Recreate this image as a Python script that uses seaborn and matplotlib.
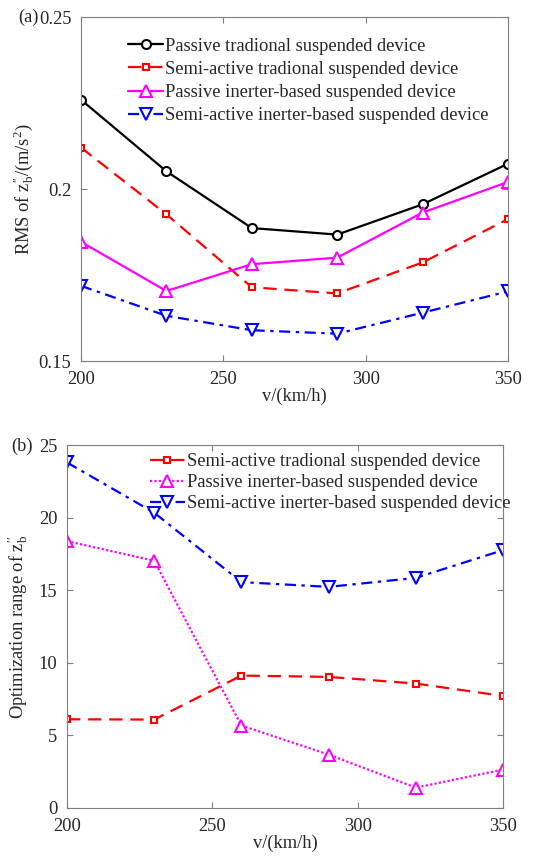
import pandas as pd
import seaborn as sns
import matplotlib.pyplot as plt

# ---- data ----
SPEEDS = [200, 230, 260, 290, 320, 350]

# (a) RMS of z_b''
RMS_PASSIVE_TRAD = [0.2260, 0.2052, 0.1887, 0.1868, 0.1956, 0.2074]
RMS_SEMI_TRAD = [0.2121, 0.1927, 0.1715, 0.1697, 0.1787, 0.1913]
RMS_PASSIVE_INERTER = [0.1847, 0.1704, 0.1782, 0.1801, 0.1932, 0.2021]
RMS_SEMI_INERTER = [0.1719, 0.1632, 0.1590, 0.1580, 0.1641, 0.1703]

# (b) optimization range (%)
OPT_SEMI_TRAD = [6.11, 6.09, 9.12, 9.03, 8.57, 7.72]
OPT_PASSIVE_INERTER = [18.38, 17.03, 5.68, 3.68, 1.40, 2.64]
OPT_SEMI_INERTER = [23.8, 20.34, 15.56, 15.23, 15.85, 17.76]

LABELS = [
    "Passive tradional suspended device",
    "Semi-active tradional suspended device",
    "Passive inerter-based suspended device",
    "Semi-active inerter-based suspended device",
]

sns.set_style("ticks")
plt.rcParams["font.family"] = ["Liberation Serif", "DejaVu Serif"]
plt.rcParams["mathtext.fontset"] = "custom"
plt.rcParams["mathtext.rm"] = "Liberation Serif"
plt.rcParams["mathtext.it"] = "Liberation Serif:italic"
plt.rcParams["axes.edgecolor"] = "#7f7f7f"
plt.rcParams["axes.linewidth"] = 0.8

FS = 13.3
ZB = r"$\mathrm{z}_\mathrm{b}^{\prime\prime}$"
DASH = (0, (6, 3.5))
DASHDOT = (0, (5, 2.5, 1.5, 2.5))


def style_axes(ax):
    ax.tick_params(direction="in", top=True, right=True, length=4, pad=7,
                   width=0.8, color="#7f7f7f", labelsize=FS, labelcolor="#262626")
    for s in ax.spines.values():
        s.set_visible(True)
        s.set_color("#7f7f7f")


def draw(ax, y, color, ls, marker, label, ms=7):
    sns.lineplot(x=SPEEDS, y=y, ax=ax, color=color, linestyle=ls, linewidth=1.6,
                 marker=marker, markersize=ms, markeredgewidth=1.5,
                 markeredgecolor=color, markerfacecolor="white",
                 label=label, legend=False)


fig = plt.figure(figsize=(5.33, 8.6), dpi=100)

# ---- (a) ----
ax1 = fig.add_axes([0.152, 0.580, 0.801, 0.400])
draw(ax1, RMS_PASSIVE_TRAD, "black", "-", "o", LABELS[0], ms=6.5)
draw(ax1, RMS_SEMI_TRAD, "red", DASH, "s", LABELS[1], ms=5)
draw(ax1, RMS_PASSIVE_INERTER, "magenta", "-", "^", LABELS[2], ms=8)
draw(ax1, RMS_SEMI_INERTER, "blue", DASHDOT, "v", LABELS[3], ms=8)
ax1.set_xlim(200, 350)
ax1.set_ylim(0.15, 0.25)
ax1.set_xticks([200, 250, 300, 350])
ax1.set_yticks([0.15, 0.2, 0.25])
ax1.set_yticklabels(["0.15", "0.2", "0.25"])
ax1.set_xlabel("v/(km/h)", fontsize=FS, color="#262626", labelpad=0)
ax1.set_ylabel("RMS of " + ZB + r"/(m/s$^2$)",
               fontsize=FS, color="#262626", labelpad=2)
style_axes(ax1)
ax1.legend(loc="upper left", bbox_to_anchor=(0.11, 0.94), frameon=False,
           fontsize=FS, handlelength=1.9, handletextpad=0.1, labelspacing=0.33,
           borderpad=0, borderaxespad=0)
fig.text(0.034, 0.980, "(a)", fontsize=FS, va="center", ha="left", color="#262626")

# ---- (b) ----
ax2 = fig.add_axes([0.1257, 0.0605, 0.818, 0.422])
draw(ax2, OPT_SEMI_TRAD, "red", DASH, "s", LABELS[1], ms=5)
draw(ax2, OPT_PASSIVE_INERTER, "magenta", (0, (1, 1)), "^", LABELS[2], ms=8)
draw(ax2, OPT_SEMI_INERTER, "blue", DASHDOT, "v", LABELS[3], ms=8)
ax2.set_xlim(200, 350)
ax2.set_ylim(0, 25)
ax2.set_xticks([200, 250, 300, 350])
ax2.set_yticks([0, 5, 10, 15, 20, 25])
ax2.set_xlabel("v/(km/h)", fontsize=FS, color="#262626", labelpad=0)
ax2.set_ylabel("Optimization range of " + ZB,
               fontsize=FS, color="#262626", labelpad=6)
style_axes(ax2)
ax2.legend(loc="upper left", bbox_to_anchor=(0.19, 0.978), frameon=False,
           fontsize=FS, handlelength=1.9, handletextpad=0.1, labelspacing=0.22,
           borderpad=0, borderaxespad=0)
fig.text(0.022, 0.481, "(b)", fontsize=FS, va="center", ha="left", color="#262626")

fig.savefig("out.png", dpi=100)
